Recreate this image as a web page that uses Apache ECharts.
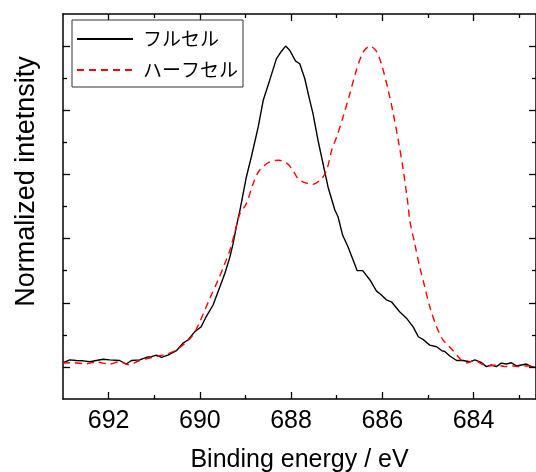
<!DOCTYPE html>
<html>
<head>
<meta charset="utf-8">
<script src="https://cdn.jsdelivr.net/npm/echarts@6/dist/echarts.min.js"></script>
<style>
html,body{margin:0;padding:0;background:#fff;}
#chart{width:536px;height:472px;}
</style>
</head>
<body>
<div id="chart"></div>
<script>
// Binding energy (eV) and normalized intensity
const fullX = [693.00,692.85,692.71,692.56,692.41,692.27,692.12,691.98,691.76,691.61,691.50,691.32,691.17,691.06,690.95,690.84,690.70,690.51,690.37,690.26,690.11,689.97,689.86,689.71,689.56,689.45,689.34,689.27,689.20,689.12,688.98,688.87,688.72,688.61,688.47,688.32,688.21,688.12,688.03,687.90,687.81,687.70,687.59,687.52,687.41,687.30,687.19,687.04,686.97,686.87,686.75,686.64,686.55,686.43,686.27,686.13,686.02,685.91,685.80,685.62,685.47,685.32,685.21,685.11,684.96,684.81,684.70,684.63,684.52,684.37,684.23,684.08,683.97,683.82,683.72,683.61,683.50,683.39,683.28,683.17,683.06,682.95,682.84,682.73,682.63];
const fullY = [0.013,0.022,0.020,0.019,0.016,0.020,0.024,0.022,0.020,0.009,0.020,0.022,0.030,0.032,0.037,0.030,0.037,0.051,0.074,0.084,0.110,0.125,0.157,0.193,0.250,0.292,0.343,0.385,0.437,0.489,0.592,0.655,0.748,0.831,0.893,0.961,0.984,1.000,0.987,0.953,0.945,0.899,0.831,0.790,0.707,0.634,0.561,0.489,0.468,0.411,0.374,0.333,0.300,0.300,0.271,0.237,0.224,0.209,0.203,0.172,0.152,0.124,0.094,0.086,0.068,0.063,0.051,0.048,0.034,0.020,0.020,0.016,0.022,0.013,0.001,0.006,0.001,0.012,0.009,0.013,0.003,0.006,0.009,0.001,-0.002];
const halfX = [693.00,692.78,692.49,692.27,691.98,691.76,691.57,691.32,691.03,690.73,690.51,690.18,690.00,689.78,689.60,689.45,689.34,689.24,689.12,688.98,688.83,688.69,688.47,688.27,688.10,687.96,687.85,687.74,687.53,687.33,687.22,687.11,687.00,686.86,686.71,686.57,686.42,686.27,686.13,686.02,685.87,685.76,685.65,685.54,685.43,685.40,685.29,685.18,685.07,684.96,684.81,684.67,684.56,684.45,684.26,684.15,683.97,683.82,683.68,683.50,683.31,683.13,683.02,682.84,682.66];
const halfY = [0.012,0.013,0.010,0.015,0.009,0.016,0.007,0.020,0.030,0.040,0.053,0.094,0.141,0.214,0.271,0.323,0.364,0.416,0.478,0.509,0.572,0.613,0.639,0.644,0.636,0.613,0.587,0.577,0.569,0.587,0.613,0.675,0.717,0.779,0.852,0.924,0.981,1.000,0.984,0.945,0.862,0.790,0.707,0.613,0.499,0.458,0.385,0.312,0.250,0.188,0.125,0.084,0.068,0.051,0.020,0.013,0.020,0.009,0.003,0.006,0.001,0.003,0.001,0.003,0.003];
const xMajorTicks = [684, 686, 688, 690, 692];
const xMinorTicks = [683, 685, 687, 689, 691];
const yMajorTicks = [0, 0.2, 0.4, 0.6, 0.8, 1.0];
const yMinorTicks = [0.1, 0.3, 0.5, 0.7, 0.9];
const seriesNames = ['フルセル', 'ハーフセル'];

const chart = echarts.init(document.getElementById('chart'), null, {renderer: 'canvas'});
const latin = 'Liberation Sans, Arial, sans-serif';
const lineCol = '#000';
function xAx(pos, ticks, len, showLabel, showLine, name) {
  return {
    type: 'value', position: pos, inverse: true, min: 682.63, max: 693,
    axisLine: {show: showLine, onZero: false, lineStyle: {color: lineCol, width: 1.5}},
    axisTick: {show: true, inside: true, length: len, customValues: ticks, lineStyle: {color: lineCol, width: 1.3}},
    axisLabel: {show: showLabel, customValues: ticks, color: '#000', fontFamily: latin, fontSize: 25, margin: 10},
    splitLine: {show: false},
    name: name || '', nameLocation: 'middle', nameGap: 49,
    nameTextStyle: {color: '#000', fontFamily: latin, fontSize: 25}
  };
}
function yAx(pos, ticks, len, showLine, name) {
  return {
    type: 'value', position: pos, min: -0.1, max: 1.1,
    axisLine: {show: showLine, onZero: false, lineStyle: {color: lineCol, width: 1.5}},
    axisTick: {show: true, inside: true, length: len, customValues: ticks, lineStyle: {color: lineCol, width: 1.3}},
    axisLabel: {show: false},
    splitLine: {show: false},
    name: name || '', nameLocation: 'middle', nameGap: 23, nameRotate: 90,
    nameTextStyle: {color: '#000', fontFamily: latin, fontSize: 27, padding: [0, 0, 0, 50]}
  };
}
const option = {
  backgroundColor: '#fff',
  animation: false,
  grid: {left: 63, right: 0, top: 14, bottom: 73, containLabel: false, outerBoundsMode: 'none'},
  legend: {
    orient: 'vertical', left: 72, top: 20,
    padding: [8, 5, 6, 4], itemGap: 9, itemWidth: 56, itemHeight: 14,
    borderColor: '#333', borderWidth: 1, backgroundColor: '#fff',
    itemStyle: {opacity: 0},
    textStyle: {fontFamily: 'Noto Sans CJK JP', fontSize: 19, color: '#000', lineHeight: 22, padding: [0, 0, 0, 5]},
    data: seriesNames
  },
  xAxis: [
    xAx('bottom', xMajorTicks, 7, true, true, 'Binding energy / eV'),
    xAx('bottom', xMinorTicks, 4, false, false),
    xAx('top', xMajorTicks, 7, false, true),
    xAx('top', xMinorTicks, 4, false, false)
  ],
  yAxis: [
    yAx('left', yMajorTicks, 7, true, 'Normalized intetnsity'),
    yAx('left', yMinorTicks, 4, false),
    yAx('right', yMajorTicks, 7, true),
    yAx('right', yMinorTicks, 4, false)
  ],
  series: [
    {
      name: seriesNames[0], type: 'line', symbol: 'none', smooth: false,
      xAxisIndex: 0, yAxisIndex: 0,
      lineStyle: {color: '#000', width: 1.4, type: 'solid'},
      itemStyle: {color: '#000'},
      data: fullX.map((x, i) => [x, fullY[i]])
    },
    {
      name: seriesNames[1], type: 'line', symbol: 'none', smooth: 0.3,
      xAxisIndex: 0, yAxisIndex: 0,
      lineStyle: {color: '#ff0000', width: 1.4, type: [7, 5]},
      itemStyle: {color: '#ff0000'},
      data: halfX.map((x, i) => [x, halfY[i]])
    }
  ]
};
chart.setOption(option);
</script>
</body>
</html>
